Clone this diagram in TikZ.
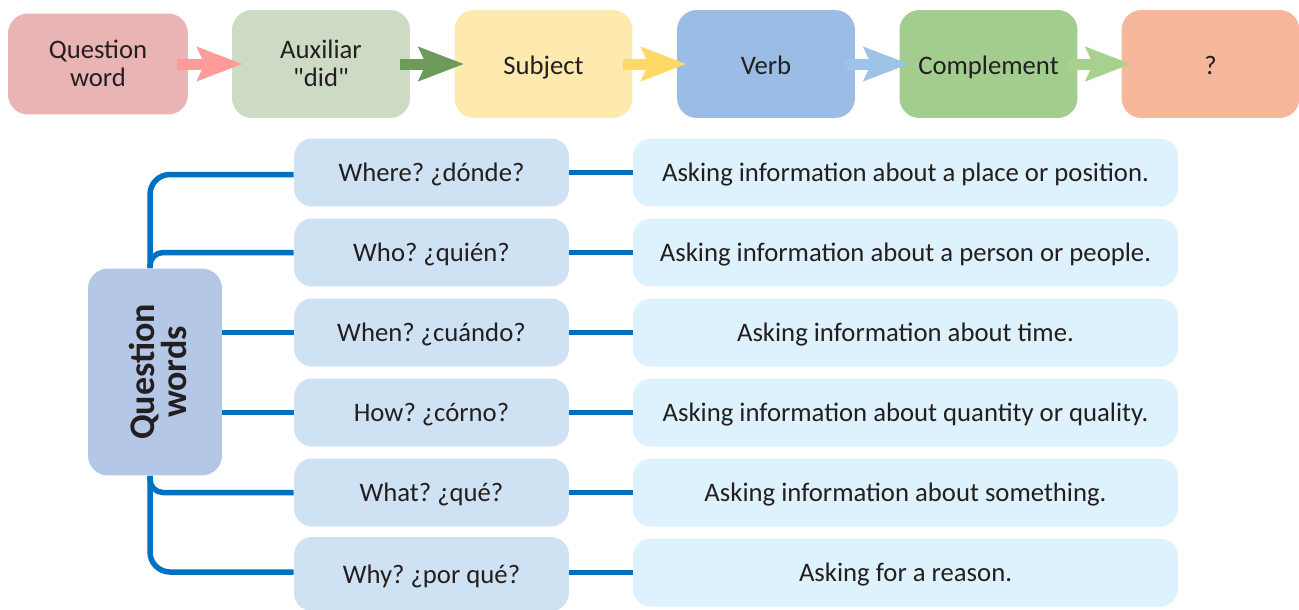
\documentclass[tikz,border=0pt]{standalone}
\usepackage{fontspec}
\setmainfont{Carlito}
\usetikzlibrary{positioning,arrows.meta}
\frenchspacing

\definecolor{ink}{HTML}{231F20}
\definecolor{qwfill}{HTML}{EBB4B4}
\definecolor{auxfill}{HTML}{CDDAC4}
\definecolor{subjfill}{HTML}{FEEAAE}
\definecolor{verbfill}{HTML}{9BBCE4}
\definecolor{complfill}{HTML}{A3CD8F}
\definecolor{markfill}{HTML}{F6B79B}
\definecolor{pinkarr}{HTML}{FF9B9B}
\definecolor{greenarr}{HTML}{6E9A5A}
\definecolor{yellowarr}{HTML}{FFD966}
\definecolor{bluearr}{HTML}{9DC3E6}
\definecolor{lgreenarr}{HTML}{A9D18E}
\definecolor{hubfill}{HTML}{B4C7E7}
\definecolor{wordfill}{HTML}{CFE2F3}
\definecolor{infofill}{HTML}{DDF2FD}
\definecolor{linkblue}{HTML}{0070C0}

\begin{document}
\begin{tikzpicture}[x=0.02cm,y=-0.02cm,font=\fontsize{15.2}{16}\selectfont,
  topbox/.style={rounded corners=0.4cm,minimum width=3.56cm,minimum height=2.16cm,align=center,text=ink,
    text height=13pt,text depth=0.5pt},
  twoline/.style={text height=26.5pt,text depth=0.5pt},
  flow/.style={line width=0.22cm,-{Stealth[length=0.9cm,width=0.66cm,inset=0.14cm]}},
  wordbox/.style={fill=wordfill,rounded corners=0.36cm,minimum width=5.5cm,minimum height=1.36cm,text=ink,
    text height=11.5pt,text depth=1pt},
  infobox/.style={fill=infofill,rounded corners=0.36cm,minimum width=10.9cm,minimum height=1.36cm,text=ink,
    text height=11.5pt,text depth=1pt},
  link/.style={draw=linkblue,line width=0.11cm}]
\useasboundingbox (0,0) rectangle (1299,609);

% sentence order
\node[topbox,twoline,fill=qwfill,minimum width=3.6cm,minimum height=2.02cm] (qword) at (98,64) {Question\\word};
\node[topbox,twoline,fill=auxfill] (aux) at (321,64) {Auxiliar\\\textquotedbl did\textquotedbl};
\node[topbox,fill=subjfill] (subj) at (543.5,64) {Subject};
\node[topbox,fill=verbfill] (verb) at (766,64) {Verb};
\node[topbox,fill=complfill] (compl) at (988.5,64) {Complement};
\node[topbox,fill=markfill] (mark) at (1210.5,64) {?};
\draw[flow,pinkarr] ([xshift=-0.22cm]qword.east) -- ([xshift=0.22cm]aux.west);
\draw[flow,greenarr] ([xshift=-0.2cm]aux.east) -- ([xshift=0.2cm]subj.west);
\draw[flow,yellowarr] ([xshift=-0.2cm]subj.east) -- ([xshift=0.2cm]verb.west);
\draw[flow,bluearr] ([xshift=-0.2cm]verb.east) -- ([xshift=0.2cm]compl.west);
\draw[flow,lgreenarr] ([xshift=-0.2cm]compl.east) -- ([xshift=0.2cm]mark.west);

% question words
\node[fill=hubfill,rounded corners=0.4cm,minimum width=2.68cm,minimum height=4.14cm] (hub) at (155,372) {};
\node[rotate=90,align=center,text=ink,font=\fontsize{20.5}{16}\selectfont\bfseries] (hublabel) at ([xshift=0.06cm]hub.center) {Question\\words};

\node[wordbox] (where) at (431.5,172.5) {Where? ¿dónde?};
\node[wordbox] (who) at (431.5,252.5) {Who? ¿quién?};
\node[wordbox] (when) at (431.5,332.5) {When? ¿cuándo?};
\node[wordbox] (how) at (431.5,412.5) {How? ¿córno?};
\node[wordbox] (what) at (431.5,492.5) {What? ¿qué?};
\node[wordbox,minimum height=1.48cm] (why) at (431.5,574) {Why? ¿por qué?};

\node[infobox] (whereinfo) at (905.5,172.5) {Asking information about a place or position.};
\node[infobox] (whoinfo) at (905.5,252.5) {Asking information about a person or people.};
\node[infobox] (wheninfo) at (905.5,332.5) {Asking information about time.};
\node[infobox] (howinfo) at (905.5,412.5) {Asking information about quantity or quality.};
\node[infobox] (whatinfo) at (905.5,492.5) {Asking information about something.};
\node[infobox] (whyinfo) at (905.5,572.5) {Asking for a reason.};

\draw[link,rounded corners=0.4cm] ([xshift=-0.1cm]hub.north) |- ([yshift=-0.04cm]where.west);
\draw[link,rounded corners=0.26cm] ([xshift=-0.1cm]hub.north) |- (who.west);
\draw[link] (when.west -| hub.east) -- (when.west);
\draw[link] (how.west -| hub.east) -- (how.west);
\draw[link,rounded corners=0.26cm] ([xshift=-0.1cm]hub.south) |- (what.west);
\draw[link,rounded corners=0.4cm] ([xshift=-0.1cm]hub.south) |- ([yshift=0.04cm]why.west);

\draw[link] (where.east) -- (whereinfo.west);
\draw[link] (who.east) -- (whoinfo.west);
\draw[link] (when.east) -- (wheninfo.west);
\draw[link] (how.east) -- (howinfo.west);
\draw[link] (what.east) -- (whatinfo.west);
\draw[link] (whyinfo.west -| why.east) -- (whyinfo.west);
\end{tikzpicture}
\end{document}
